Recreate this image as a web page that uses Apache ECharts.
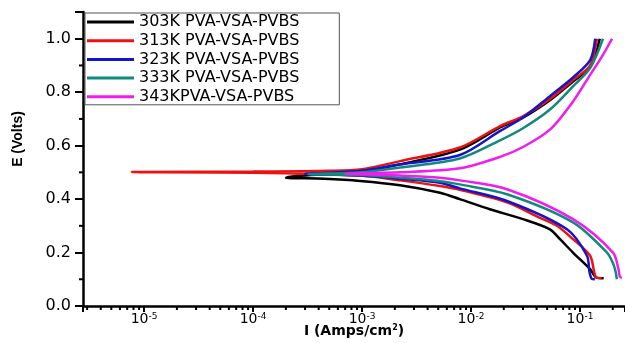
<!DOCTYPE html>
<html lang="en">
<head>
<meta charset="utf-8">
<script src="https://cdn.jsdelivr.net/npm/echarts@6/dist/echarts.min.js"></script>
<title></title>
</head>
<body style="margin:0">
<div id="main" style="width:625px;height:343px;"></div>
<script type="text/javascript">
    // legend names and colours
    var names = ['303K PVA-VSA-PVBS', '313K PVA-VSA-PVBS', '323K PVA-VSA-PVBS', '333K PVA-VSA-PVBS', '343KPVA-VSA-PVBS'];
    var colors = ['#000000', '#ee1111', '#1414c8', '#11897f', '#f01cf0'];

    // current (A/cm2) and potential (V), cathodic end -> Ecorr -> anodic end
    var i303 = [0.165, 0.142, 0.124, 0.0863, 0.0656, 0.053, 0.030, 0.0149, 0.0079, 0.0052, 0.00223, 0.00096, 0.00045, 0.0002, 0.00026, 0.0005, 0.001, 0.00223, 0.0079, 0.0185, 0.030, 0.053, 0.0863, 0.124, 0.152];
    var e303 = [0.104, 0.106, 0.138, 0.200, 0.250, 0.287, 0.325, 0.362, 0.400, 0.424, 0.452, 0.468, 0.476, 0.480, 0.487, 0.494, 0.503, 0.530, 0.585, 0.668, 0.705, 0.770, 0.840, 0.895, 1.0];

    var i313 = [0.158, 0.140, 0.124, 0.0863, 0.0615, 0.043, 0.0214, 0.0079, 0.0052, 0.00223, 0.00096, 0.0001, 0.0000077, 0.0001, 0.0005, 0.001, 0.00223, 0.0079, 0.0185, 0.030, 0.053, 0.0863, 0.124, 0.143];
    var e313 = [0.104, 0.108, 0.188, 0.250, 0.300, 0.330, 0.388, 0.435, 0.449, 0.470, 0.488, 0.499, 0.501, 0.503, 0.506, 0.512, 0.542, 0.593, 0.673, 0.710, 0.775, 0.845, 0.900, 1.0];

    var i323 = [0.137, 0.128, 0.122, 0.116, 0.076, 0.0214, 0.0079, 0.0052, 0.00223, 0.00096, 0.0003, 0.00045, 0.001, 0.00223, 0.0079, 0.0185, 0.030, 0.053, 0.0863, 0.124, 0.138];
    var e323 = [0.100, 0.102, 0.130, 0.188, 0.287, 0.393, 0.440, 0.461, 0.476, 0.488, 0.495, 0.498, 0.506, 0.530, 0.565, 0.655, 0.705, 0.785, 0.855, 0.920, 1.0];

    var i333 = [0.218, 0.212, 0.201, 0.177, 0.0863, 0.0214, 0.0079, 0.0052, 0.00223, 0.00096, 0.00032, 0.0005, 0.001, 0.00223, 0.0079, 0.0185, 0.030, 0.053, 0.0863, 0.124, 0.1625];
    var e333 = [0.100, 0.130, 0.160, 0.200, 0.313, 0.418, 0.455, 0.467, 0.480, 0.490, 0.493, 0.496, 0.500, 0.518, 0.552, 0.620, 0.665, 0.735, 0.822, 0.890, 1.0];

    var i343 = [0.243, 0.232, 0.225, 0.201, 0.0863, 0.0214, 0.0079, 0.0052, 0.00223, 0.00096, 0.0007, 0.001, 0.00223, 0.0079, 0.0185, 0.030, 0.053, 0.0863, 0.124, 0.160, 0.197];
    var e343 = [0.105, 0.110, 0.140, 0.200, 0.325, 0.437, 0.470, 0.480, 0.488, 0.493, 0.495, 0.497, 0.500, 0.515, 0.558, 0.595, 0.660, 0.765, 0.865, 0.935, 1.0];

    var currents = [i303, i313, i323, i333, i343];
    var potentials = [e303, e313, e323, e333, e343];

    // axis ranges and minor ticks
    var xMin = 2.75e-6, xMax = 0.259;
    var yMinorTicks = [0.1, 0.3, 0.5, 0.7, 0.9];
    var xMinorTicks = [];
    for (var d = -6; d <= -1; d++) {
        for (var k = 2; k <= 9; k++) {
            var v = k * Math.pow(10, d);
            if (v > xMin && v < xMax) xMinorTicks.push([v, 0]);
        }
    }

    var myChart = echarts.init(document.getElementById('main'));

    var series = names.map(function (name, n) {
        return {
            name: name,
            type: 'line',
            data: currents[n].map(function (x, j) { return [x, potentials[n][j]]; }),
            showSymbol: false,
            smooth: 0.3,
            color: colors[n],
            lineStyle: {width: 2.5, color: colors[n]}
        };
    });

    series.push({
        type: 'custom',
        clip: false,
        silent: true,
        data: xMinorTicks,
        renderItem: function (params, api) {
            var p = api.coord([api.value(0), 0]);
            return {type: 'line', shape: {x1: p[0], y1: p[1], x2: p[0], y2: p[1] + 4},
                style: {stroke: '#000', lineWidth: 2}};
        }
    });
    series.push({
        type: 'custom',
        clip: false,
        silent: true,
        data: yMinorTicks.map(function (y) { return [xMin, y]; }),
        renderItem: function (params, api) {
            var p = api.coord([xMin, api.value(1)]);
            return {type: 'line', shape: {x1: p[0], y1: p[1], x2: p[0] - 4, y2: p[1]},
                style: {stroke: '#000', lineWidth: 2}};
        }
    });

    var option = {
        animation: false,
        grid: {left: 83, right: 0, top: 12, bottom: 37, outerBoundsMode: 'none'},
        legend: {
            data: names,
            orient: 'vertical',
            left: 85,
            top: 13,
            icon: 'rect',
            itemWidth: 47,
            itemHeight: 3,
            itemGap: 2.7,
            padding: [1, 40, 0, 2],
            borderColor: '#555',
            borderWidth: 1,
            borderRadius: 0,
            textStyle: {fontFamily: 'DejaVu Sans', fontSize: 16, lineHeight: 15, color: '#000'}
        },
        xAxis: {
            type: 'log',
            logBase: 10,
            min: xMin,
            max: xMax,
            name: 'I (Amps/cm{s|2})',
            nameLocation: 'middle',
            nameGap: 18,
            nameMoveOverlap: false,
            nameTextStyle: {
                fontFamily: 'DejaVu Sans', fontWeight: 'bold', fontSize: 14, color: '#000',
                rich: {s: {fontFamily: 'DejaVu Sans', fontSize: 8, fontWeight: 'bold', verticalAlign: 'top', lineHeight: 8}}
            },
            splitLine: {show: false},
            axisLine: {lineStyle: {color: '#000', width: 2.5}},
            axisTick: {length: 6, lineStyle: {width: 2}},
            minorTick: {show: false},
            axisLabel: {
                margin: 6,
                color: '#000',
                formatter: function (value) {
                    var ex = Math.log10(value);
                    var r = Math.round(ex);
                    if (Math.abs(ex - r) > 1e-6) return '';
                    return '{b|10}{s|' + r + '}';
                },
                rich: {
                    b: {fontFamily: 'DejaVu Sans', fontSize: 14, lineHeight: 15, color: '#000'},
                    s: {fontFamily: 'DejaVu Sans', fontSize: 9, lineHeight: 9, verticalAlign: 'top', color: '#000'}
                }
            }
        },
        yAxis: {
            type: 'value',
            min: 0,
            max: 1.1,
            name: 'E (Volts)',
            nameLocation: 'middle',
            nameGap: 58,
            nameTextStyle: {fontFamily: 'Liberation Sans', fontWeight: 'bold', fontSize: 14, color: '#000', padding: [0, 0, 0, 40]},
            splitLine: {show: false},
            axisLine: {lineStyle: {color: '#000', width: 2.5}},
            axisTick: {length: 8, lineStyle: {width: 2}},
            axisLabel: {
                margin: 12,
                fontFamily: 'DejaVu Sans',
                fontSize: 16,
                color: '#000',
                formatter: function (v) {
                    if (Math.abs(v * 5 - Math.round(v * 5)) > 1e-6) return '';
                    return v.toFixed(1);
                }
            }
        },
        series: series
    };

    myChart.setOption(option);
</script>
</body>
</html>
